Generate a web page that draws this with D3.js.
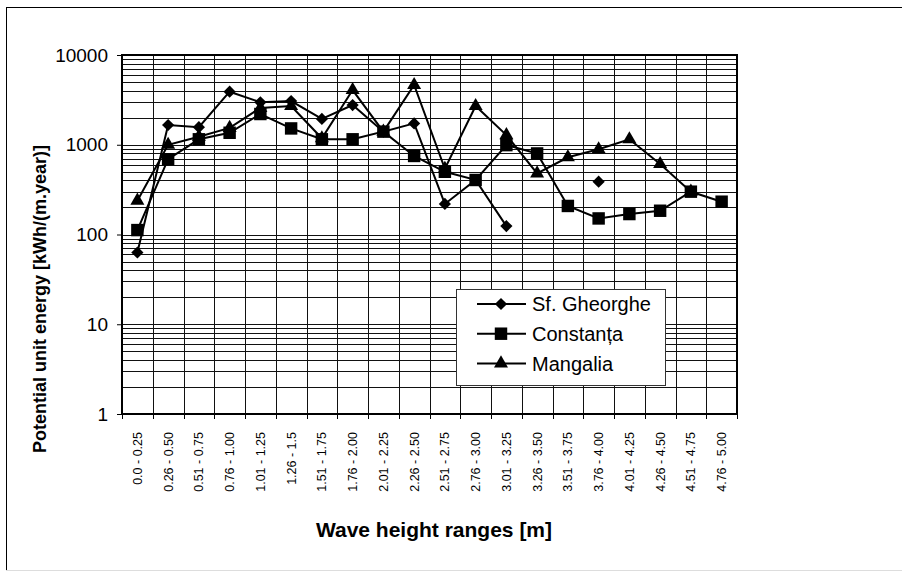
<!DOCTYPE html>
<html>
<head>
<meta charset="utf-8">
<script src="https://cdnjs.cloudflare.com/ajax/libs/d3/7.8.5/d3.min.js"></script>
<style>
  body { margin: 0; background: #fff; }
  svg { display: block; font-family: "Liberation Sans", Arial, sans-serif; }
</style>
</head>
<body>
<svg id="chart" width="902" height="572"></svg>
<script>
// wave height classes
var categories = ["0.0 - 0.25", "0.26 - 0.50", "0.51 - 0.75", "0.76 - 1.00", "1.01 - 1.25",
    "1.26 - 1.5", "1.51 - 1.75", "1.76 - 2.00", "2.01 - 2.25", "2.26 - 2.50", "2.51 - 2.75",
    "2.76 - 3.00", "3.01 - 3.25", "3.26 - 3.50", "3.51 - 3.75", "3.76 - 4.00", "4.01 - 4.25",
    "4.26 - 4.50", "4.51 - 4.75", "4.76 - 5.00"];

// potential unit energy, kWh/(m.year)
var sfGheorghe = [63, 1660, 1570, 3900, 2970, 3070, 1940, 2770, 1400, 1730, 219, 405, 124,
    null, null, 388, null, null, null, null];
var constanta = [112, 690, 1150, 1360, 2200, 1520, 1150, 1150, 1400, 750, 500, 405, 990,
    800, 208, 151, 169, 184, 300, 232];
var mangalia = [238, 1000, 1230, 1540, 2570, 2700, 1180, 4070, 1400, 4630, 540, 2700, 1280,
    480, 725, 890, 1150, 610, 300, null];

var yTicks = [1, 10, 100, 1000, 10000];

var series = [
    {name: "Sf. Gheorghe", values: sfGheorghe, symbol: d3.symbolDiamond2 || d3.symbolDiamond, size: 95},
    {name: "Constanța", values: constanta, symbol: d3.symbolSquare, size: 155},
    {name: "Mangalia", values: mangalia, symbol: d3.symbolTriangle, size: 85}
];

//setup variables
var margin = {top: 55, left: 122},
    width = 737 - 122,
    height = 414 - 55,
    root = d3.select("#chart"),
    x = d3.scaleBand().domain(categories).range([0, width]),
    y = d3.scaleLog().domain([1, 10000]).range([height, 0]);

// outer chart frame
root.append("rect")
    .attr("x", 6.5).attr("y", 7.5)
    .attr("width", 940).attr("height", 563)
    .attr("fill", "none")
    .attr("stroke", "#000");
root.append("line")
    .attr("x1", 6).attr("x2", 902).attr("y1", 570.5).attr("y2", 570.5)
    .attr("stroke", "#ddd");

var svg = root.append("g")
    .attr("transform", "translate(" + margin.left + "," + margin.top + ")");

// horizontal gridlines (log majors and minors)
var gridVals = [];
for (var p = 0; p < 4; p++) {
    for (var m = 1; m < 10; m++) gridVals.push(m * Math.pow(10, p));
}
gridVals.push(10000);

svg.append("g")
    .selectAll("line")
    .data(gridVals)
  .enter().append("line")
    .attr("x1", 0).attr("x2", width)
    .attr("y1", function(d) { return Math.round(y(d)) + 0.5; })
    .attr("y2", function(d) { return Math.round(y(d)) + 0.5; })
    .attr("stroke", "#111")
    .attr("shape-rendering", "crispEdges");

// vertical gridlines on category borders
svg.append("g")
    .selectAll("line")
    .data(categories.slice(1))
  .enter().append("line")
    .attr("x1", function(d) { return Math.round(x(d)) + 0.5; })
    .attr("x2", function(d) { return Math.round(x(d)) + 0.5; })
    .attr("y1", 0).attr("y2", height)
    .attr("stroke", "#111")
    .attr("shape-rendering", "crispEdges");

// plot area border
svg.append("rect")
    .attr("x", 0).attr("y", 0)
    .attr("width", width).attr("height", height)
    .attr("fill", "none")
    .attr("stroke", "#000")
    .attr("stroke-width", 2);

// y axis
var yAxis = svg.append("g")
    .call(d3.axisLeft(y).tickValues(yTicks).tickFormat(d3.format("d")).tickSize(5).tickSizeOuter(0));
yAxis.select(".domain").remove();
yAxis.selectAll("text")
    .attr("x", -14)
    .style("font-size", "19px")
    .attr("fill", "#000");

// x axis tick marks on category borders
svg.append("g")
    .selectAll("line")
    .data(categories.concat([null]))
  .enter().append("line")
    .attr("x1", function(d, i) { return Math.round(i * x.bandwidth()) + 0.5; })
    .attr("x2", function(d, i) { return Math.round(i * x.bandwidth()) + 0.5; })
    .attr("y1", height).attr("y2", height + 5)
    .attr("stroke", "#000");

// rotated category labels
svg.append("g")
    .selectAll("text")
    .data(categories)
  .enter().append("text")
    .attr("transform", function(d) {
        return "translate(" + (x(d) + x.bandwidth() / 2) + "," + (height + 18) + ") rotate(-90)";
    })
    .attr("dy", "0.35em")
    .style("text-anchor", "end")
    .style("font-size", "12.5px")
    .text(function(d) { return d; });

// series lines
var valueline = d3.line()
    .defined(function(d) { return d.v != null; })
    .x(function(d) { return x(d.c) + x.bandwidth() / 2; })
    .y(function(d) { return y(d.v); });

series.forEach(function(s) {
    var pts = s.values.map(function(v, i) { return {c: categories[i], v: v}; });
    svg.append("path")
        .data([pts])
        .attr("fill", "none")
        .attr("stroke", "#000")
        .attr("stroke-width", 2)
        .attr("d", valueline);
    svg.append("g")
        .selectAll("path")
        .data(pts.filter(function(d) { return d.v != null; }))
      .enter().append("path")
        .attr("d", d3.symbol().type(s.symbol).size(s.size))
        .attr("transform", function(d) {
            return "translate(" + (x(d.c) + x.bandwidth() / 2) + "," + y(d.v) + ")";
        })
        .attr("fill", "#000");
});

// axis titles
root.append("text")
    .attr("x", 434).attr("y", 537)
    .style("text-anchor", "middle")
    .style("font-size", "21px")
    .style("font-weight", "bold")
    .text("Wave height ranges [m]");

root.append("text")
    .attr("transform", "translate(46,299) rotate(-90)")
    .style("text-anchor", "middle")
    .style("font-size", "18px")
    .style("font-weight", "bold")
    .text("Potential unit energy [kWh/(m.year)]");

// legend
var legend = root.append("g").attr("transform", "translate(456,289)");
legend.append("rect")
    .attr("x", 0.5).attr("y", 0.5)
    .attr("width", 209).attr("height", 96)
    .attr("fill", "#fff")
    .attr("stroke", "#333");

var rows = legend.selectAll("g.row")
    .data(series)
  .enter().append("g")
    .attr("class", "row")
    .attr("transform", function(d, i) { return "translate(0," + (15 + i * 29.7) + ")"; });
rows.append("line")
    .attr("x1", 21).attr("x2", 70)
    .attr("stroke", "#000").attr("stroke-width", 2);
rows.append("path")
    .attr("d", function(d) { return d3.symbol().type(d.symbol).size(d.size)(); })
    .attr("transform", "translate(45,0)")
    .attr("fill", "#000");
rows.append("text")
    .attr("x", 76).attr("dy", "0.36em")
    .style("font-size", "20px")
    .text(function(d) { return d.name; });
</script>
</body>
</html>
